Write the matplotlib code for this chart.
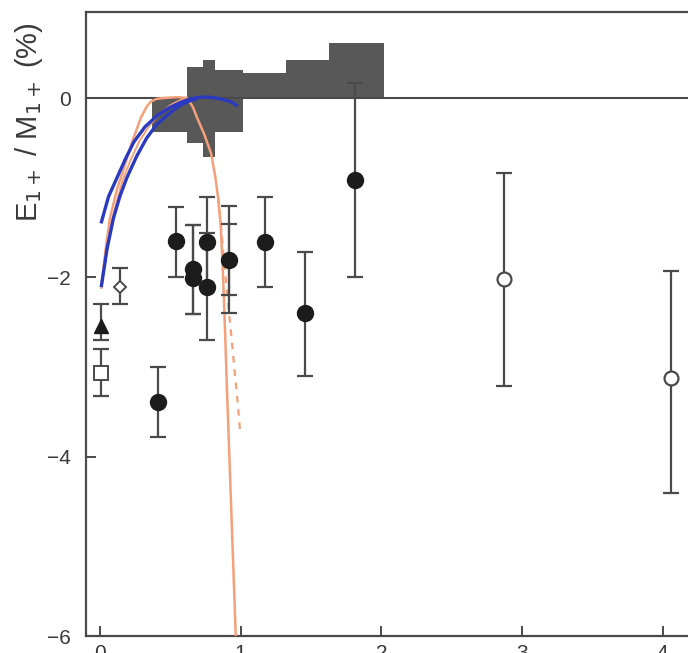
import matplotlib
matplotlib.use("Agg")
import matplotlib.pyplot as plt
import numpy as np

# ---------------- data ----------------
# grey band (bin edges and lower/upper limits)
band_edges = [0.37, 0.62, 0.73, 0.82, 1.02, 1.32, 1.63, 2.02]
band_low = [-0.38, -0.50, -0.66, -0.38, 0.0, 0.0, 0.0]
band_high = [0.0, 0.35, 0.43, 0.31, 0.28, 0.42, 0.61]

# filled circles
fc_x = [0.41, 0.54, 0.66, 0.66, 0.76, 0.76, 0.92, 1.17, 1.46, 1.81]
fc_y = [-3.39, -1.59, -1.91, -2.01, -1.60, -2.11, -1.81, -1.60, -2.40, -0.91]
fc_lo = [-3.78, -2.00, -2.41, -2.41, -2.10, -2.70, -2.40, -2.11, -3.10, -2.00]
fc_hi = [-3.00, -1.22, -1.42, -1.42, -1.10, -1.50, -1.20, -1.10, -1.72, 0.17]
# inner error bar for one point
fc2_x = [0.92]
fc2_y = [-1.81]
fc2_lo = [-2.20]
fc2_hi = [-1.41]

# open circles
oc_x = [2.87, 4.06]
oc_y = [-2.02, -3.12]
oc_lo = [-3.21, -4.40]
oc_hi = [-0.84, -1.93]

# open diamond
od_x = [0.14]
od_y = [-2.11]
od_lo = [-2.30]
od_hi = [-1.90]

# filled triangle
ft_x = [0.01]
ft_y = [-2.54]
ft_lo = [-2.70]
ft_hi = [-2.30]

# open square
os_x = [0.01]
os_y = [-3.07]
os_lo = [-3.32]
os_hi = [-2.80]

# theory curves
blueA_x = [0.01, 0.06, 0.12, 0.18, 0.24, 0.32, 0.41, 0.49, 0.57, 0.64, 0.71, 0.78, 0.86, 0.93, 0.97]
blueA_y = [-1.38, -1.10, -0.89, -0.68, -0.49, -0.32, -0.19, -0.11, -0.05, -0.01, 0.01, 0.01, -0.01, -0.04, -0.08]
blueB_x = [0.01, 0.05, 0.095, 0.14, 0.19, 0.26, 0.33, 0.40, 0.48, 0.55, 0.62, 0.68]
blueB_y = [-2.09, -1.68, -1.34, -1.10, -0.89, -0.65, -0.45, -0.30, -0.19, -0.10, -0.04, -0.01]
orA_x = [0.01, 0.04, 0.07, 0.12, 0.17, 0.23, 0.29, 0.33, 0.36, 0.40, 0.45, 0.55, 0.62, 0.66, 0.69,
         0.74, 0.79, 0.82, 0.84, 0.857, 0.87, 0.88, 0.89, 0.90, 0.915, 0.94, 0.965]
orA_y = [-2.10, -1.68, -1.34, -1.02, -0.78, -0.48, -0.22, -0.10, -0.04, -0.01, 0.0, 0.01, 0.0, -0.10, -0.22,
         -0.40, -0.62, -0.88, -1.12, -1.40, -1.80, -2.20, -2.65, -3.14, -3.80, -4.90, -6.0]
orB_x = [0.01, 0.05, 0.08, 0.12, 0.16, 0.22, 0.28, 0.35, 0.42, 0.50, 0.56, 0.62]
orB_y = [-2.12, -1.70, -1.40, -1.15, -0.92, -0.68, -0.48, -0.31, -0.18, -0.08, -0.03, 0.0]
orD_x = [0.84, 0.86, 0.88, 0.90, 0.92, 0.94, 0.96, 0.98, 0.995]
orD_y = [-1.10, -1.42, -1.80, -2.12, -2.44, -2.76, -3.10, -3.42, -3.70]

# ticks
xticks = [0, 1, 2, 3, 4]
yticks = [0, -2, -4, -6]
ytick_labels = ["0", "\u22122", "\u22124", "\u22126"]

# ---------------- style ----------------
grey = "#4a4a4a"
plt.rcParams['font.family'] = ['Liberation Sans', 'DejaVu Sans']

fig = plt.figure(figsize=(6.88, 6.53), dpi=100)
fig.patch.set_facecolor("white")
ax = fig.add_axes([86/688, 17/653, (688-86)/688 + 0.01, (636-12)/653])
ax.set_xlim(-0.1, 4.23)
ax.set_ylim(-6, 0.96)

# band
widths = np.diff(band_edges)
ax.bar(band_edges[:-1], np.array(band_high) - np.array(band_low), width=widths,
       bottom=band_low, align='edge', color="#585858", edgecolor='none', zorder=1)

# zero line
ax.axhline(0, color=grey, lw=1.5, zorder=2)

# curves
ax.plot(orA_x, orA_y, color="#f4a07a", lw=1.8, zorder=3)
ax.plot(orB_x, orB_y, color="#f4a07a", lw=1.4, zorder=3)
ax.plot(orD_x, orD_y, color="#f4a07a", lw=1.6, ls=(0, (3, 3)), zorder=3)
ax.plot(blueA_x, blueA_y, color="#2a3ac0", lw=2.4, zorder=4)
ax.plot(blueB_x, blueB_y, color="#2a3ac0", lw=2.4, zorder=4)

def ebar(x, y, lo, hi):
    y = np.array(y); lo = np.array(lo); hi = np.array(hi)
    yerr = np.vstack([y - lo, hi - y])
    ax.errorbar(x, y, yerr=yerr, fmt='none', ecolor=grey, elinewidth=1.6,
                capsize=5.5, capthick=1.6, zorder=5)

ebar(fc_x, fc_y, fc_lo, fc_hi)
ebar(fc2_x, fc2_y, fc2_lo, fc2_hi)
ebar(oc_x, oc_y, oc_lo, oc_hi)
ebar(od_x, od_y, od_lo, od_hi)
ebar(ft_x, ft_y, ft_lo, ft_hi)
ebar(os_x, os_y, os_lo, os_hi)

ax.plot(fc_x, fc_y, 'o', ms=11.5, mfc="#1c1c1c", mec="#1c1c1c", zorder=6)
ax.plot(oc_x, oc_y, 'o', ms=10, mfc="white", mec=grey, mew=1.6, zorder=6)
ax.plot(od_x, od_y, 'D', ms=6, mfc="white", mec=grey, mew=1.4, zorder=6)
ax.plot(ft_x, ft_y, '^', ms=10, mfc="#1c1c1c", mec="#1c1c1c", zorder=6)
ax.plot(os_x, os_y, 's', ms=10, mfc="white", mec=grey, mew=1.4, zorder=6)

# axes styling
for s in ['left', 'bottom', 'top']:
    ax.spines[s].set_color(grey)
    ax.spines[s].set_linewidth(1.6)
ax.spines['right'].set_visible(False)
ax.set_xticks(xticks)
ax.set_yticks(yticks)
ax.set_yticklabels(ytick_labels)
ax.tick_params(direction='in', length=7, width=1.4, color=grey,
               labelsize=15, labelcolor="#3a3a3a")
ax.tick_params(axis='y', pad=11)
ax.tick_params(axis='x', pad=6)

ax.set_ylabel(r"E$_{1+}$ / M$_{1+}$ (%)", fontsize=21, color="#3a3a3a")
ax.yaxis.set_label_coords(-0.068, 0.824)

fig.savefig("out.png", dpi=100, facecolor="white")
